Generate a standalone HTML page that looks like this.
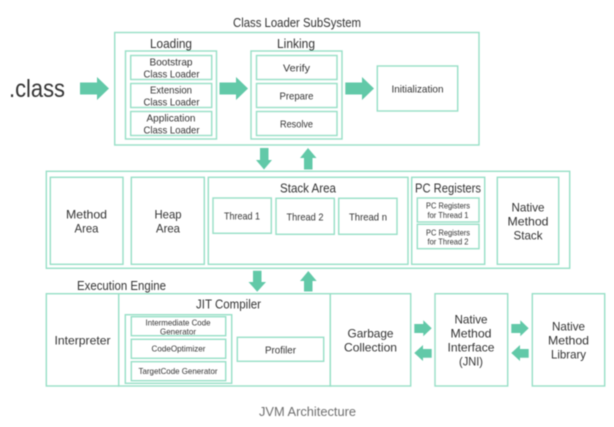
<!DOCTYPE html>
<html><head><meta charset="utf-8"><style>
html,body{margin:0;padding:0;background:#fff;width:614px;height:427px;overflow:hidden}
svg{display:block;filter:blur(.4px)}
text{font-family:"Liberation Sans",sans-serif;fill:#333;text-anchor:middle}
rect{fill:#fff;stroke:#97dfc6;stroke-width:1.4}
.a{fill:#62c9a8;stroke:none}
</style></head><body>
<svg width="614" height="427" viewBox="0 0 614 427" xmlns="http://www.w3.org/2000/svg">
<!-- top -->
<rect x="114.7" y="32.5" width="364.3" height="112.5"/>
<rect x="125.5" y="51" width="91" height="88"/>
<rect x="130.7" y="55.5" width="81" height="24"/>
<rect x="130.7" y="83.5" width="81" height="24"/>
<rect x="130.7" y="111.5" width="81" height="24"/>
<rect x="251" y="51" width="91" height="88"/>
<rect x="256.5" y="55.5" width="80.5" height="24"/>
<rect x="256.5" y="83.5" width="80.5" height="24"/>
<rect x="256.5" y="111.5" width="80.5" height="24"/>
<rect x="377.3" y="66" width="80.4" height="45"/>
<!-- middle -->
<rect x="46.3" y="171.3" width="523.4" height="97"/>
<rect x="50.3" y="177.3" width="72.7" height="87"/>
<rect x="131.3" y="177.3" width="73" height="87"/>
<rect x="208.3" y="177.3" width="199.7" height="87"/>
<rect x="213" y="198" width="58.3" height="35.3"/>
<rect x="276" y="198.3" width="58.3" height="36"/>
<rect x="338.7" y="198.3" width="58.3" height="36"/>
<rect x="411.7" y="177.3" width="73" height="87"/>
<rect x="417.3" y="198" width="61.7" height="24"/>
<rect x="417.3" y="224.3" width="61.7" height="24.4"/>
<rect x="497.3" y="177.3" width="61.4" height="87"/>
<!-- bottom -->
<rect x="46.3" y="293.7" width="72.4" height="92.3"/>
<rect x="118.7" y="293.7" width="211.6" height="92.3"/>
<rect x="125.3" y="314.7" width="106.4" height="68.6"/>
<rect x="131.3" y="316.7" width="94.4" height="19"/>
<rect x="131.3" y="339.3" width="94.4" height="19"/>
<rect x="131.3" y="361.7" width="94.4" height="19"/>
<rect x="237.3" y="337.3" width="86.4" height="24"/>
<rect x="330.3" y="293.7" width="80.4" height="92.3"/>
<rect x="435" y="293.7" width="72.7" height="92.3"/>
<rect x="532.3" y="293.7" width="72.4" height="92.3"/>
<!-- arrows -->
<polygon class="a" points="80,82.5 97,82.5 97,77 109,88.5 97,100 97,94.5 80,94.5"/>
<polygon class="a" points="219.5,82.5 236,82.5 236,77 248,88.5 236,100 236,94.5 219.5,94.5"/>
<polygon class="a" points="345.3,82.5 362,82.5 362,77 374,88.5 362,100 362,94.5 345.3,94.5"/>
<polygon class="a" points="260,148 268.5,148 268.5,160 272,160 264,169.5 256,160 260,160"/>
<polygon class="a" points="304,169.5 312.5,169.5 312.5,158 316.5,158 308,148 300,158 304,158"/>
<polygon class="a" points="253,270.7 261.5,270.7 261.5,282 266,282 257.2,291.7 248.5,282 253,282"/>
<polygon class="a" points="304,291.5 312.5,291.5 312.5,281 316.7,281 308.3,271 300,281 304,281"/>
<polygon class="a" points="414.3,324 423.3,324 423.3,320.3 431.7,328.3 423.3,336.3 423.3,333 414.3,333"/>
<polygon class="a" points="431.7,349 423,349 423,345 414.3,353 423,361 423,357.8 431.7,357.8"/>
<polygon class="a" points="511.3,324 520.3,324 520.3,320.3 528.7,328.3 520.3,336.3 520.3,333 511.3,333"/>
<polygon class="a" points="528.7,349 520,349 520,345 511.3,353 520,361 520,357.8 528.7,357.8"/>
<!-- text -->
<text x="297" y="27" font-size="13" textLength="128" lengthAdjust="spacingAndGlyphs">Class Loader SubSystem</text>
<text x="171" y="48" font-size="13" textLength="42" lengthAdjust="spacingAndGlyphs">Loading</text>
<text x="296" y="48" font-size="13" textLength="38" lengthAdjust="spacingAndGlyphs">Linking</text>
<text x="37" y="97" font-size="25" textLength="56" lengthAdjust="spacingAndGlyphs">.class</text>
<text x="171" y="65.5" font-size="10.5" textLength="43" lengthAdjust="spacingAndGlyphs">Bootstrap</text>
<text x="171.5" y="77.5" font-size="10.5" textLength="56" lengthAdjust="spacingAndGlyphs">Class Loader</text>
<text x="171" y="93.5" font-size="10.5" textLength="42" lengthAdjust="spacingAndGlyphs">Extension</text>
<text x="171.5" y="105.5" font-size="10.5" textLength="56" lengthAdjust="spacingAndGlyphs">Class Loader</text>
<text x="171" y="121.5" font-size="10.5" textLength="49" lengthAdjust="spacingAndGlyphs">Application</text>
<text x="171.5" y="133.5" font-size="10.5" textLength="56" lengthAdjust="spacingAndGlyphs">Class Loader</text>
<text x="296.5" y="71.5" font-size="10.5" textLength="27" lengthAdjust="spacingAndGlyphs">Verify</text>
<text x="296.5" y="99.5" font-size="10.5" textLength="34" lengthAdjust="spacingAndGlyphs">Prepare</text>
<text x="296.5" y="127.5" font-size="10.5" textLength="33" lengthAdjust="spacingAndGlyphs">Resolve</text>
<text x="417.5" y="92.5" font-size="10.5" textLength="52" lengthAdjust="spacingAndGlyphs">Initialization</text>
<text x="86.5" y="218.5" font-size="12" textLength="41" lengthAdjust="spacingAndGlyphs">Method</text>
<text x="86.5" y="232.5" font-size="12" textLength="24" lengthAdjust="spacingAndGlyphs">Area</text>
<text x="168" y="218.5" font-size="12" textLength="27" lengthAdjust="spacingAndGlyphs">Heap</text>
<text x="168" y="232.5" font-size="12" textLength="24" lengthAdjust="spacingAndGlyphs">Area</text>
<text x="308" y="192.5" font-size="13" textLength="56" lengthAdjust="spacingAndGlyphs">Stack Area</text>
<text x="242" y="219.5" font-size="10.5" textLength="36" lengthAdjust="spacingAndGlyphs">Thread 1</text>
<text x="305" y="220.5" font-size="10.5" textLength="37" lengthAdjust="spacingAndGlyphs">Thread 2</text>
<text x="368" y="220.5" font-size="10.5" textLength="38" lengthAdjust="spacingAndGlyphs">Thread n</text>
<text x="448" y="192.5" font-size="13" textLength="66" lengthAdjust="spacingAndGlyphs">PC Registers</text>
<text x="448" y="208.5" font-size="8.5" textLength="44" lengthAdjust="spacingAndGlyphs">PC Registers</text>
<text x="448" y="218" font-size="8.5" textLength="41" lengthAdjust="spacingAndGlyphs">for Thread 1</text>
<text x="448" y="235.5" font-size="8.5" textLength="44" lengthAdjust="spacingAndGlyphs">PC Registers</text>
<text x="448" y="244.5" font-size="8.5" textLength="41" lengthAdjust="spacingAndGlyphs">for Thread 2</text>
<text x="528" y="211.5" font-size="12" textLength="33" lengthAdjust="spacingAndGlyphs">Native</text>
<text x="528" y="225.5" font-size="12" textLength="41" lengthAdjust="spacingAndGlyphs">Method</text>
<text x="528" y="239.5" font-size="12" textLength="29" lengthAdjust="spacingAndGlyphs">Stack</text>
<text x="121.5" y="290" font-size="13" textLength="89" lengthAdjust="spacingAndGlyphs">Execution Engine</text>
<text x="82.5" y="344.5" font-size="12" textLength="56" lengthAdjust="spacingAndGlyphs">Interpreter</text>
<text x="228.5" y="308.5" font-size="13" textLength="65" lengthAdjust="spacingAndGlyphs">JIT Compiler</text>
<text x="178" y="325.5" font-size="8.5" textLength="65" lengthAdjust="spacingAndGlyphs">Intermediate Code</text>
<text x="178" y="334.5" font-size="8.5" textLength="36" lengthAdjust="spacingAndGlyphs">Generator</text>
<text x="178.5" y="351.5" font-size="8.5" textLength="54" lengthAdjust="spacingAndGlyphs">CodeOptimizer</text>
<text x="178" y="374" font-size="8.5" textLength="79" lengthAdjust="spacingAndGlyphs">TargetCode Generator</text>
<text x="280.5" y="353.5" font-size="10.5" textLength="31" lengthAdjust="spacingAndGlyphs">Profiler</text>
<text x="370.5" y="337.5" font-size="12" textLength="46" lengthAdjust="spacingAndGlyphs">Garbage</text>
<text x="370.5" y="351.5" font-size="12" textLength="53" lengthAdjust="spacingAndGlyphs">Collection</text>
<text x="471" y="323.5" font-size="12" textLength="33" lengthAdjust="spacingAndGlyphs">Native</text>
<text x="471" y="337.5" font-size="12" textLength="41" lengthAdjust="spacingAndGlyphs">Method</text>
<text x="471" y="351.5" font-size="12" textLength="47" lengthAdjust="spacingAndGlyphs">Interface</text>
<text x="471" y="365.5" font-size="12" textLength="24" lengthAdjust="spacingAndGlyphs">(JNI)</text>
<text x="568.5" y="330.5" font-size="12" textLength="33" lengthAdjust="spacingAndGlyphs">Native</text>
<text x="568.5" y="344.5" font-size="12" textLength="41" lengthAdjust="spacingAndGlyphs">Method</text>
<text x="568.5" y="358.5" font-size="12" textLength="35" lengthAdjust="spacingAndGlyphs">Library</text>
<text x="307.5" y="416" font-size="13" textLength="97" lengthAdjust="spacingAndGlyphs" style="fill:#6f6f6f">JVM Architecture</text>
</svg>
</body></html>
